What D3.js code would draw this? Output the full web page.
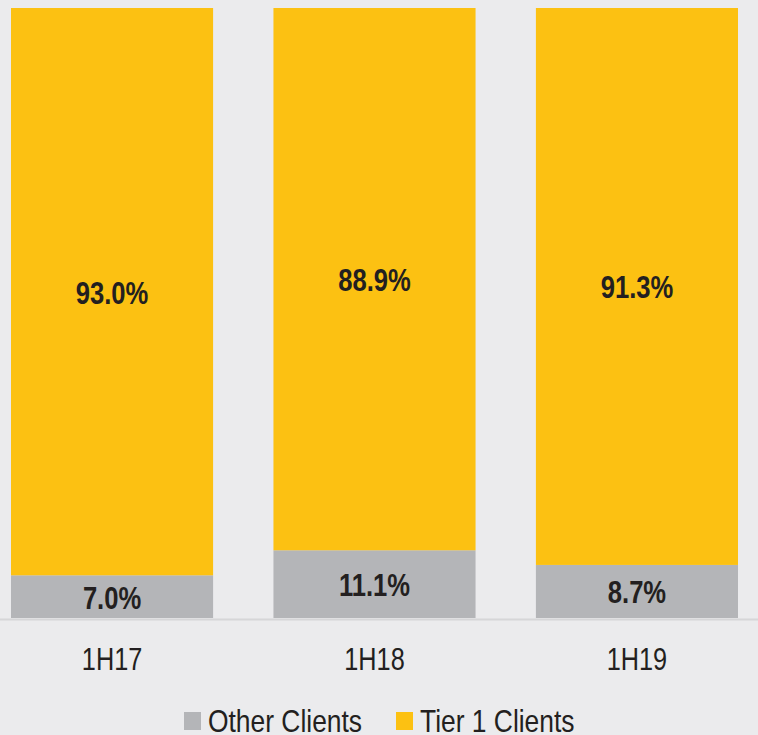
<!DOCTYPE html>
<html>
<head>
<meta charset="utf-8">
<script src="https://cdn.jsdelivr.net/npm/d3@7"></script>
<style>
  body { margin: 0; background: #ebebed; }
  text { font-family: "Liberation Sans", Arial, sans-serif; fill: #231f20; }
</style>
</head>
<body>
<div id="chart"></div>
<script>
const width = 758, height = 735;
const narrow = 0.8; // fake a condensed face

// data
const periods = ['1H17', '1H18', '1H19'];
const otherClients = [7.0, 11.1, 8.7];
const tier1Clients = [93.0, 88.9, 91.3];
const seriesNames = ['Other Clients', 'Tier 1 Clients'];
const seriesColors = ['#b4b5b8', '#fcc112'];

const rows = periods.map((p, i) => ({ period: p, other: otherClients[i], tier1: tier1Clients[i] }));
const stacked = d3.stack().keys(['other', 'tier1'])(rows);

const svg = d3.select('#chart').append('svg')
	.attr('width', width)
	.attr('height', height);

const x = d3.scaleBand().domain(periods).range([11, 738]).paddingInner(0.23).paddingOuter(0);
const y = d3.scaleLinear().domain([0, 100]).range([618, 8]);

// bars
stacked.forEach((layer, li) => {
	svg.append('g')
		.selectAll('rect')
		.data(layer)
		.enter()
		.append('rect')
		.attr('x', d => x(d.data.period))
		.attr('width', x.bandwidth())
		.attr('y', d => y(d[1]))
		.attr('height', d => y(d[0]) - y(d[1]))
		.style('fill', seriesColors[li]);

	svg.append('g')
		.selectAll('text')
		.data(layer)
		.enter()
		.append('text')
		.attr('transform', d => 'translate(' + (x(d.data.period) + x.bandwidth() / 2) + ',' + ((y(d[0]) + y(d[1])) / 2 + 0.5) + ') scale(' + narrow + ',1)')
		.attr('dy', '0.36em')
		.attr('text-anchor', 'middle')
		.style('font-size', '32px')
		.style('font-weight', 'bold')
		.text(d => (d[1] - d[0]).toFixed(1) + '%');
});

// baseline
svg.append('line')
	.attr('x1', 0).attr('x2', width)
	.attr('y1', 619.5).attr('y2', 619.5)
	.style('stroke', '#d6d6d8')
	.style('stroke-width', 2);

// x axis labels
const xAxis = d3.axisBottom(x).tickSize(0).tickPadding(0);
const gx = svg.append('g').attr('transform', 'translate(0,640)').call(xAxis);
gx.select('.domain').remove();
gx.selectAll('text')
	.attr('x', 0).attr('y', 0).attr('dy', null)
	.attr('transform', 'translate(0,30) scale(0.79,1)')
	.style('font-size', '32px')
	.style('fill', '#231f20')
	.style('font-family', '"Liberation Sans", Arial, sans-serif');

// legend
const legendX = [184, 396];
const legend = svg.append('g');
seriesNames.forEach((name, i) => {
	legend.append('rect')
		.attr('x', legendX[i]).attr('y', 712)
		.attr('width', 17).attr('height', 18)
		.style('fill', seriesColors[i]);
	legend.append('text')
		.attr('transform', 'translate(' + (legendX[i] + 24) + ',732) scale(0.825,1)')
		.style('font-size', '32px')
		.text(name);
});
</script>
</body>
</html>
